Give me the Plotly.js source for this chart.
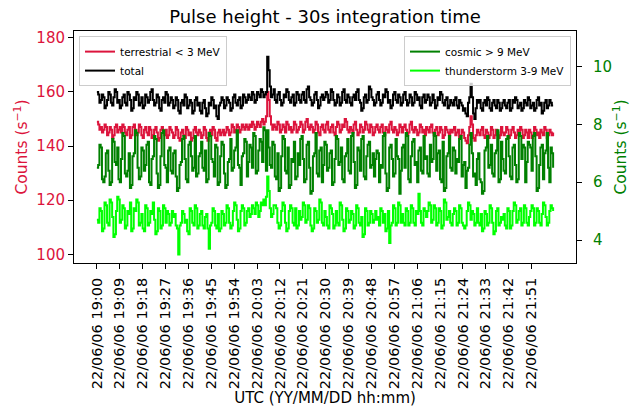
<!DOCTYPE html>
<html>
<head>
<meta charset="utf-8">
<script src="https://cdn.plot.ly/plotly-3.0.1.min.js"></script>
<style>html,body{margin:0;padding:0;background:#fff;}#chart{width:641px;height:414px;}</style>
</head>
<body>
<div id="chart"></div>
<script>
// 30 s samples starting 2022-06-06 19:00:00
const datePrefix = "2022-06-06";
const dateLabel = "22/06/06";
const startSeconds = 19 * 3600;
const stepSeconds = 30;

const total = [
160,159,156,157,159,158,154,155,157,160,159,156,155,158,161,160,156,157,154,155,
158,159,156,155,160,159,157,153,154,158,157,160,159,155,156,158,154,155,159,158,
156,157,160,161,157,155,156,159,158,154,153,157,158,156,160,159,155,156,158,157,
154,155,158,157,153,152,156,157,155,159,158,154,155,157,156,152,153,157,158,155,
156,153,152,156,157,154,151,152,156,155,158,157,154,155,151,150,155,156,158,157,
154,155,158,157,156,153,154,158,159,156,155,157,158,154,155,159,158,156,157,159,
158,157,160,159,156,157,160,159,158,161,160,158,159,160,173,168,162,158,159,161,
157,156,159,160,157,155,156,159,158,161,160,157,156,158,159,155,156,160,159,157,
156,159,160,157,156,161,162,158,157,155,156,159,160,157,154,155,158,159,157,158,
160,159,156,157,161,160,157,155,156,159,158,155,156,160,161,157,156,159,158,156,
155,158,159,157,160,161,157,156,153,154,158,159,156,157,162,161,158,157,155,156,
159,160,157,155,156,159,158,161,160,156,157,154,155,159,160,157,156,159,158,155,
156,159,160,157,155,156,159,158,155,156,160,159,157,158,155,154,158,159,156,157,
159,158,155,156,159,157,154,155,158,157,160,159,156,155,157,158,154,155,157,156,
155,157,158,155,154,157,156,155,153,154,152,151,156,158,163,158,152,150,154,157,
156,157,154,153,156,157,155,158,157,154,153,156,157,155,154,157,156,153,154,156,
157,155,154,156,157,153,154,157,156,158,157,154,155,156,153,154,157,156,155,158,
157,154,155,156,153,154,157,158,155,156,152,153,156,157,154,155,157,156,155,155
];

const terrestrial = [
149,148,146,147,145,146,148,147,144,145,147,146,143,144,147,148,145,146,147,145,
148,147,145,144,146,147,143,144,147,148,146,144,145,148,147,144,143,146,147,145,
144,147,146,143,144,146,147,145,142,143,146,147,145,144,146,143,144,147,146,145,
143,144,147,146,143,142,145,146,144,143,147,146,144,145,142,143,146,147,145,144,
146,145,143,144,147,146,143,142,145,146,144,147,146,143,142,145,146,144,145,146,
144,145,147,146,144,145,148,147,145,146,148,147,145,146,148,147,146,148,147,146,
148,147,149,148,146,147,149,148,147,149,150,148,149,151,160,157,151,148,146,148,
147,146,149,148,145,146,148,147,145,149,148,146,147,145,146,149,148,145,146,147,
149,148,145,146,149,150,147,146,148,147,145,146,149,148,145,144,147,148,146,145,
148,149,146,145,147,148,145,144,147,149,148,145,146,148,147,150,149,146,145,147,
146,145,148,149,146,144,145,148,147,145,146,149,148,146,145,148,147,144,145,147,
148,146,145,147,148,145,144,147,146,145,148,149,146,145,147,146,144,145,148,147,
145,147,148,146,144,145,148,149,146,145,147,146,144,145,148,147,145,146,144,147,
146,145,147,148,145,144,146,147,144,145,147,146,143,144,147,146,145,144,146,145,
146,147,144,145,146,143,144,146,145,143,142,141,144,147,151,148,143,142,144,146,
145,144,146,147,144,143,146,145,143,144,147,146,143,144,146,145,143,144,147,145,
144,145,147,146,143,144,146,147,145,143,144,146,145,147,146,143,144,146,145,143,
146,145,143,144,147,146,144,145,143,146,145,144,147,146,143,144,146,145,144,145
];

const cosmic = [
6.5,6.6,7.3,7.2,6.1,6.0,6.2,7.0,7.1,6.4,5.9,6.0,7.5,7.4,6.7,6.6,7.2,6.1,6.0,6.8,
7.7,7.6,6.3,6.2,6.4,7.0,5.8,5.9,6.9,7.0,7.8,7.7,6.5,6.1,6.2,7.2,7.1,6.4,6.6,7.3,
7.4,6.0,5.9,6.8,6.9,7.6,7.5,6.3,5.8,5.9,6.9,7.7,7.8,6.6,6.5,6.0,7.1,7.2,6.4,6.3,
7.0,7.1,6.2,5.7,5.8,6.6,6.7,7.5,7.6,6.8,6.1,6.0,7.3,7.4,6.9,6.4,6.5,7.6,6.2,6.3,
6.9,7.0,7.4,6.5,6.4,7.1,6.0,6.1,7.7,7.6,6.8,6.7,6.2,7.3,7.2,5.9,6.0,6.9,7.4,7.3,
6.3,5.8,5.9,6.7,6.8,7.5,6.4,6.5,7.1,7.2,7.8,6.6,6.5,5.9,6.9,7.0,7.5,7.4,6.2,6.7,
7.3,7.2,6.5,7.7,7.6,6.3,6.4,7.1,7.5,7.4,6.7,7.9,7.8,6.4,7.8,7.2,6.6,6.5,7.4,7.3,
6.2,6.1,7.0,5.7,5.8,6.9,7.6,7.5,6.4,6.3,7.2,5.8,5.9,6.8,6.7,7.4,6.1,6.2,7.0,6.6,
7.5,7.6,6.8,6.0,6.1,7.3,7.4,6.5,5.6,5.7,6.9,7.0,7.7,6.3,6.2,7.1,7.2,6.0,6.6,7.4,
7.3,6.4,6.5,7.0,7.1,5.9,6.0,6.8,7.6,7.5,6.6,6.7,7.2,6.1,6.0,6.9,7.0,7.5,6.4,6.3,
7.6,7.7,6.7,5.8,5.9,7.2,7.1,6.4,7.5,7.6,6.2,6.1,6.9,7.3,7.4,6.5,6.6,7.0,6.2,6.8,
7.1,7.0,6.0,6.6,6.5,7.6,7.7,6.3,5.7,5.8,7.2,7.3,6.8,6.2,6.3,7.5,6.9,6.8,5.6,6.4,
7.2,7.3,6.5,7.7,7.6,6.1,6.0,6.9,7.4,7.5,6.6,6.7,6.0,7.1,7.2,6.4,6.3,7.6,6.8,6.9,
6.3,6.2,7.3,6.7,6.8,7.7,7.6,6.4,7.0,7.1,6.1,6.0,7.4,5.7,5.8,6.9,7.0,7.6,6.5,6.4,
7.2,7.1,6.3,6.8,6.7,7.5,7.6,6.2,6.6,6.7,5.8,6.4,6.5,7.3,7.7,7.0,6.2,6.3,5.9,6.8,
7.0,6.1,6.0,5.6,5.7,7.1,7.2,7.6,6.5,6.6,7.3,6.3,6.2,7.0,7.1,7.8,6.0,6.1,7.4,6.8,
6.4,6.3,7.5,7.6,6.9,6.2,6.1,7.2,7.3,6.6,6.0,6.1,7.7,7.6,6.8,7.3,7.2,6.0,6.7,7.4,
7.3,7.2,6.4,7.6,7.7,6.9,5.7,5.8,6.6,7.2,7.3,6.1,7.0,7.1,7.7,6.5,6.0,7.2,7.0,6.5
];

const thunderstorm = [
4.7,4.6,5.1,5.0,4.3,4.4,5.3,5.2,4.6,4.5,5.4,5.3,4.8,4.1,4.2,5.0,5.5,5.4,4.6,4.7,
5.2,5.1,4.4,4.5,5.0,4.9,5.3,4.3,4.4,5.1,5.0,5.4,5.3,4.5,4.6,4.9,4.4,4.3,5.2,5.1,
4.5,4.6,5.0,4.9,5.3,4.7,4.2,4.3,5.1,5.0,4.4,4.5,5.2,5.1,4.6,5.0,4.9,4.5,4.6,5.0,
4.8,4.9,4.5,4.4,3.5,4.5,4.6,5.0,4.9,4.6,4.7,4.3,4.2,5.1,5.0,4.6,4.5,5.2,5.1,4.4,
4.5,4.9,5.0,4.5,4.4,4.8,4.9,4.4,3.7,4.5,4.6,5.1,5.0,4.5,4.4,4.9,4.3,4.4,5.0,4.9,
4.5,4.6,5.2,5.1,4.6,4.4,4.5,5.0,5.3,5.2,4.7,4.3,4.4,5.0,5.2,5.1,4.5,4.6,5.0,5.1,
4.8,4.9,5.2,5.1,4.9,5.3,5.2,4.8,5.0,5.3,5.2,5.4,5.2,5.5,6.2,5.7,5.1,4.8,4.9,5.2,
5.2,5.1,4.6,4.4,4.5,5.0,5.3,5.2,4.6,4.3,4.4,5.0,5.2,5.1,4.6,4.5,5.1,4.4,4.5,5.0,
4.7,4.8,5.3,5.2,4.6,4.7,5.2,5.1,4.5,4.3,4.4,5.1,5.0,4.6,4.7,5.4,5.3,4.6,4.5,5.0,
4.8,4.5,4.4,5.2,5.1,4.9,4.4,4.5,5.0,4.6,4.5,5.3,5.2,4.7,4.3,4.4,5.1,5.0,4.6,4.7,
5.0,4.9,4.4,4.5,5.2,5.1,4.6,4.5,4.8,4.1,4.2,5.1,5.0,4.5,4.6,5.0,4.9,4.6,4.7,5.0,
4.7,4.8,4.5,5.1,5.0,4.6,4.9,4.3,4.4,5.0,3.9,4.5,4.6,5.2,5.1,4.5,4.6,5.3,5.2,4.6,
4.9,4.6,4.5,5.1,5.0,4.5,4.6,5.2,5.1,4.6,4.5,5.0,4.9,5.6,5.0,4.6,4.5,5.1,5.0,4.8,
5.0,5.3,5.2,4.6,4.7,5.2,5.1,4.5,4.6,5.1,5.0,4.4,4.5,5.4,5.3,4.7,4.8,5.0,4.6,4.5,
4.9,5.1,5.0,4.5,4.6,5.2,5.1,4.6,4.5,4.4,4.5,5.0,5.3,5.2,4.7,5.0,4.9,4.5,4.6,5.1,
4.6,4.5,4.9,4.3,4.4,5.0,4.9,4.5,4.6,5.2,5.1,4.6,4.2,4.3,5.0,5.1,4.5,4.6,4.8,4.7,
4.9,4.5,4.4,5.1,5.0,4.4,4.5,5.0,5.3,5.2,4.6,4.7,5.0,5.1,4.5,4.6,5.2,5.1,4.6,4.5,
4.8,5.0,5.2,5.1,4.5,4.6,5.1,5.0,4.6,4.5,4.9,5.3,5.2,4.8,4.5,4.6,5.0,5.2,5.1,5.0
];

const tickTimes = ["19:00","19:09","19:18","19:27","19:36","19:45","19:54","20:03","20:12","20:21",
                   "20:30","20:39","20:48","20:57","21:06","21:15","21:24","21:33","21:42","21:51"];

function pad(n){return (n<10?"0":"")+n;}
function timeAt(i){
  const s = startSeconds + i*stepSeconds;
  const h = Math.floor(s/3600), m = Math.floor((s%3600)/60), sec = s%60;
  return datePrefix + " " + pad(h) + ":" + pad(m) + ":" + pad(sec);
}
const nSamples = Math.max(total.length, terrestrial.length, cosmic.length, thunderstorm.length);
const times = Array.from({length: nSamples}, (_, i) => timeAt(i));

const font = '"DejaVu Sans", sans-serif';
const RED = "#dc143c", GREEN = "#008000", LIME = "#00ff00";

const traces = [
  {x: times, y: terrestrial, name: "terrestrial < 3 MeV", type: "scatter", mode: "lines",
   line: {color: RED, width: 2, shape: "hv"}, yaxis: "y", legend: "legend"},
  {x: times, y: total, name: "total", type: "scatter", mode: "lines",
   line: {color: "#000000", width: 2, shape: "hv"}, yaxis: "y", legend: "legend"},
  {x: times, y: cosmic, name: "cosmic > 9 MeV", type: "scatter", mode: "lines",
   line: {color: GREEN, width: 2, shape: "hv"}, yaxis: "y2", legend: "legend2"},
  {x: times, y: thunderstorm, name: "thunderstorm 3-9 MeV", type: "scatter", mode: "lines",
   line: {color: LIME, width: 2, shape: "hv"}, yaxis: "y2", legend: "legend2"}
];

const layout = {
  width: 641, height: 414,
  margin: {l: 74, r: 65, t: 31, b: 151},
  paper_bgcolor: "#ffffff", plot_bgcolor: "#ffffff",
  font: {family: font, size: 15, color: "#000"},
  title: {text: "Pulse height - 30s integration time", font: {family: font, size: 18, color: "#000"},
          x: 0.5, xref: "paper", y: 0.96, yref: "container", yanchor: "middle"},
  xaxis: {
    type: "date",
    range: [datePrefix + " 18:51:00", datePrefix + " 22:08:30"],
    tickmode: "array",
    tickvals: tickTimes.map(t => datePrefix + " " + t + ":00"),
    ticktext: tickTimes.map(t => dateLabel + " " + t),
    tickangle: -90,
    ticks: "outside", ticklen: 5, tickwidth: 1, tickcolor: "#000",
    ticklabelstandoff: 3,
    tickfont: {family: font, size: 14.5, color: "#000"},
    showline: true, linecolor: "#000", linewidth: 1, mirror: true,
    showgrid: false, zeroline: false,
    title: {text: "UTC (YY/MM/DD hh:mm)", font: {family: font, size: 15, color: "#000"}, standoff: 4}
  },
  yaxis: {
    range: [96.8, 182.5],
    tickvals: [100, 120, 140, 160, 180],
    ticks: "outside", ticklen: 5, tickwidth: 1, tickcolor: "#000",
    ticklabelstandoff: 0,
    tickfont: {family: font, size: 15, color: RED},
    showline: true, linecolor: "#000", linewidth: 1,
    showgrid: false, zeroline: false,
    title: {text: "Counts (s<sup>−1</sup>)", font: {family: font, size: 15.5, color: RED}, standoff: 4}
  },
  yaxis2: {
    overlaying: "y", side: "right",
    range: [3.204, 11.235],
    tickvals: [4, 6, 8, 10],
    ticks: "outside", ticklen: 5, tickwidth: 1, tickcolor: "#000",
    ticklabelstandoff: 8,
    tickfont: {family: font, size: 15, color: GREEN},
    showline: true, linecolor: "#000", linewidth: 1,
    showgrid: false, zeroline: false,
    title: {text: "Counts (s<sup>−1</sup>)", font: {family: font, size: 15.5, color: GREEN}, standoff: 4}
  },
  legend: {
    x: 0.01, y: 0.978, xanchor: "left", yanchor: "top",
    bgcolor: "rgba(255,255,255,0.8)", bordercolor: "#cccccc", borderwidth: 1,
    font: {family: font, size: 10.5, color: "#000"}, itemwidth: 30, tracegroupgap: 0
  },
  legend2: {
    x: 0.99, y: 0.978, xanchor: "right", yanchor: "top",
    bgcolor: "rgba(255,255,255,0.8)", bordercolor: "#cccccc", borderwidth: 1,
    font: {family: font, size: 10.5, color: "#000"}, itemwidth: 30, tracegroupgap: 0
  },
  showlegend: true
};

Plotly.newPlot("chart", traces, layout, {displayModeBar: false, staticPlot: true});
</script>
</body>
</html>
